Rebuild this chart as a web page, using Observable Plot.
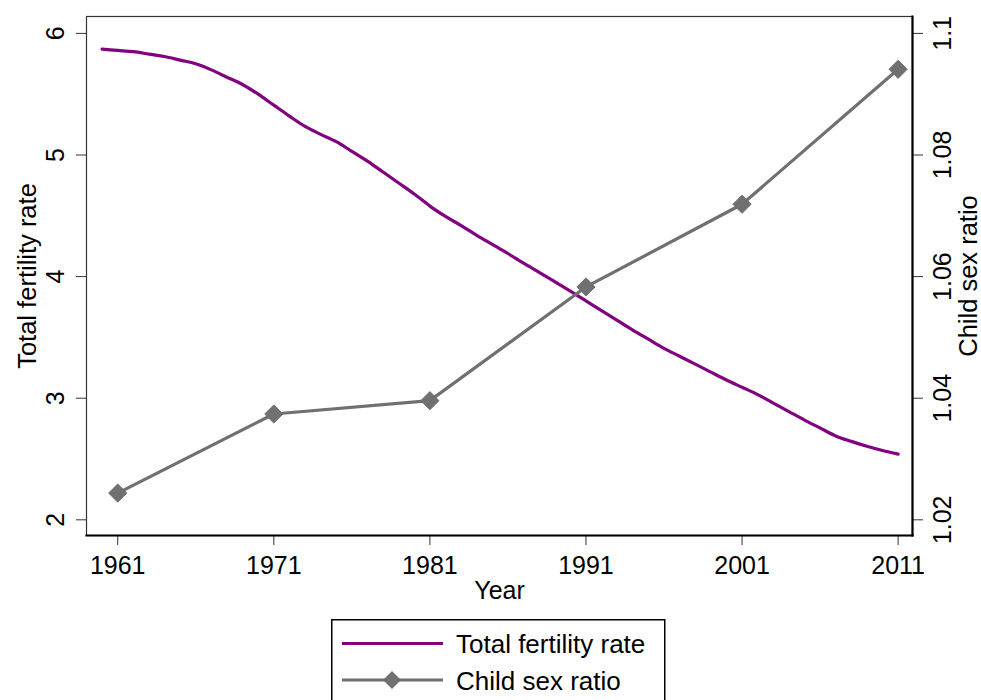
<!DOCTYPE html>
<html><head><meta charset="utf-8">
<script src="https://cdn.jsdelivr.net/npm/d3@7"></script>
<script src="https://cdn.jsdelivr.net/npm/@observablehq/plot@0.6"></script>
<style>
body{margin:0;background:#fff;font-family:"Liberation Sans",Arial,sans-serif;}
#wrap{position:relative;width:981px;height:700px;overflow:hidden;background:#fff;}
#chart{position:absolute;left:0;top:0;}
#legend{position:absolute;left:331px;top:619px;}
</style></head>
<body>
<div id="wrap"><div id="chart"></div><div id="legend"></div></div>
<script>
// ---- data ----
const years = [1960,1961,1962,1963,1964,1965,1966,1967,1968,1969,1970,1971,1972,1973,1974,1975,1976,1977,1978,1979,1980,1981,1982,1983,1984,1985,1986,1987,1988,1989,1990,1991,1992,1993,1994,1995,1996,1997,1998,1999,2000,2001,2002,2003,2004,2005,2006,2007,2008,2009,2010,2011];
const totalFertilityRate = [5.87,5.86,5.85,5.83,5.81,5.78,5.75,5.70,5.64,5.58,5.50,5.41,5.32,5.235,5.17,5.11,5.03,4.95,4.86,4.77,4.68,4.58,4.495,4.42,4.34,4.265,4.19,4.11,4.035,3.958,3.88,3.80,3.72,3.64,3.56,3.485,3.41,3.345,3.28,3.215,3.15,3.09,3.03,2.96,2.89,2.82,2.755,2.69,2.645,2.605,2.57,2.54];
const censusYears = [1961,1971,1981,1991,2001,2011];
const childSexRatio = [1.0244,1.0374,1.0396,1.0583,1.0719,1.0941];
const tfrTicks = [2,3,4,5,6];
const csrTicks = [1.02,1.04,1.06,1.08,1.1];
const csrTickLabels = ["1.02","1.04","1.06","1.08","1.1"];
const xTicks = [1961,1971,1981,1991,2001,2011];
const seriesNames = ["Total fertility rate","Child sex ratio"];
const axisTitles = {x:"Year", yLeft:"Total fertility rate", yRight:"Child sex ratio"};

// right axis (1.02..1.10) aligned with left axis (2..6)
const csrToLeft = r => 2 + (r - 1.02) / 0.02;

const tfrData = years.map((y,i)=>({year:y, value:totalFertilityRate[i]}));
const csrData = censusYears.map((y,i)=>({year:y, value:childSexRatio[i]}));

const PURPLE = "#800080", GRAY = "#707070";
const FONT = "'Liberation Sans', Arial, sans-serif";

const chart = Plot.plot({
  width: 981, height: 610,
  marginLeft: 86, marginRight: 69, marginTop: 16, marginBottom: 75,
  style: {fontFamily: FONT, fontSize: "25px", color: "#000", background: "#fff", overflow: "visible"},
  x: {domain: [1959, 2011.92]},
  y: {domain: [1.871, 6.139]},
  marks: [
    Plot.axisX({ticks: xTicks, tickFormat: d => String(d), tickSize: 10, tickPadding: 11, label: null, stroke: "#333", fontSize: 25}),
    Plot.axisY({ticks: tfrTicks, tickFormat: d => String(d), tickSize: 10, tickPadding: 13, tickRotate: -90, textAnchor: "middle", lineAnchor: "bottom", label: null, stroke: "#333", fontSize: 25}),
    Plot.axisY({anchor: "right", ticks: csrTicks.map(csrToLeft), tickFormat: (d, i) => csrTickLabels[i], tickSize: 10, tickPadding: 11, tickRotate: -90, textAnchor: "middle", lineAnchor: "top", label: null, stroke: "#333", fontSize: 25}),
    Plot.frame({stroke: "#333", strokeWidth: 1.2}),
    Plot.frame({anchor: "bottom", stroke: "#000", strokeWidth: 2.2}),
    Plot.frame({anchor: "right", stroke: "#000", strokeWidth: 2.2}),
    Plot.line(tfrData, {x: "year", y: "value", stroke: PURPLE, strokeWidth: 3.2, curve: "monotone-x"}),
    Plot.line(csrData, {x: "year", y: d => csrToLeft(d.value), stroke: GRAY, strokeWidth: 3.2}),
    Plot.dot(csrData, {x: "year", y: d => csrToLeft(d.value), symbol: "diamond2", r: 8.2, fill: GRAY, stroke: GRAY, strokeWidth: 1}),
    Plot.text([axisTitles.x], {frameAnchor: "bottom", dy: 55, text: d => d, fontSize: 25, textAnchor: "middle", lineAnchor: "middle", fill: "#000"}),
    Plot.text([axisTitles.yLeft], {frameAnchor: "left", dx: -59, rotate: -90, text: d => d, fontSize: 25.5, textAnchor: "middle", lineAnchor: "middle", fill: "#000"}),
    Plot.text([axisTitles.yRight], {frameAnchor: "right", dx: 56, rotate: -90, text: d => d, fontSize: 25.5, textAnchor: "middle", lineAnchor: "middle", fill: "#000"})
  ]
});
document.getElementById("chart").appendChild(chart);

// ---- legend ----
const ns = "http://www.w3.org/2000/svg";
const lg = document.createElementNS(ns, "svg");
lg.setAttribute("width", 336); lg.setAttribute("height", 90);
lg.style.fontFamily = FONT;
function el(tag, attrs, parent){const e=document.createElementNS(ns,tag);for(const k in attrs)e.setAttribute(k,attrs[k]);(parent||lg).appendChild(e);return e;}
el("rect",{x:0.75,y:0.75,width:333,height:100,fill:"#fff",stroke:"#000","stroke-width":1.5});
const rowsY = [24.5, 61];
const styles = [{stroke:PURPLE, marker:false},{stroke:GRAY, marker:true}];
seriesNames.forEach((name,i)=>{
  const yy = rowsY[i];
  el("line",{x1:11,x2:112,y1:yy,y2:yy,stroke:styles[i].stroke,"stroke-width":3.2});
  if(styles[i].marker){
    el("path",{d:`M${61},${yy-9} L${61+9},${yy} L${61},${yy+9} L${61-9},${yy} Z`,fill:GRAY});
  }
  const t = el("text",{x:125,y:yy+9.5,"font-size":26,fill:"#000"});
  t.textContent = name;
});
document.getElementById("legend").appendChild(lg);
</script>
</body></html>
